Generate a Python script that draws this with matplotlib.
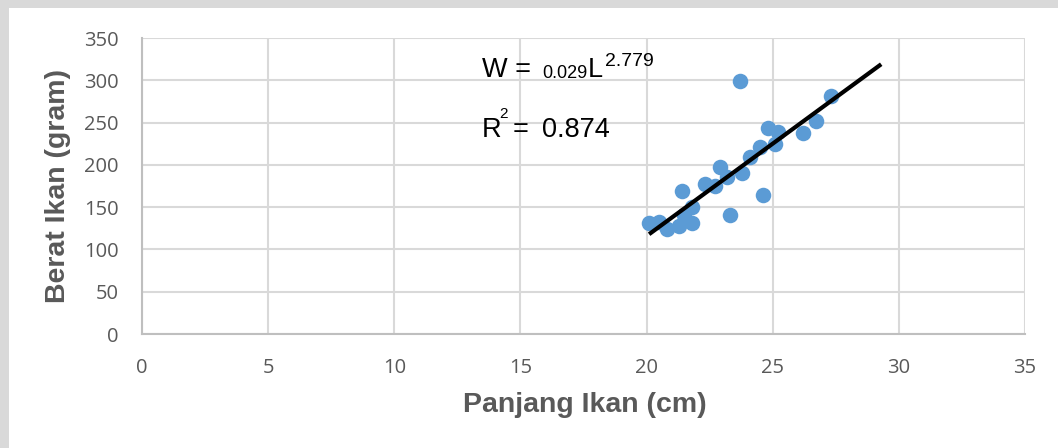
import numpy as np
import matplotlib
matplotlib.use("Agg")
import matplotlib.pyplot as plt
from matplotlib.patches import Rectangle

# data
panjang = [20.1, 20.5, 20.8, 21.3, 21.8, 21.5, 21.8, 21.4, 22.3, 22.7, 22.9, 23.2,
           23.8, 23.3, 24.6, 24.1, 24.5, 24.8, 25.2, 25.1, 26.2, 26.7, 27.3, 23.7]
berat = [131, 133, 124, 128, 131, 141, 150, 169, 177, 175, 197, 186,
         190, 141, 164, 209, 221, 243, 239, 225, 238, 252, 281, 299]
trend_x = [20.1, 29.3]
trend_y = [118, 319]

xticks = [0, 5, 10, 15, 20, 25, 30, 35]
yticks = [0, 50, 100, 150, 200, 250, 300, 350]

W, H = 1058, 448
fig = plt.figure(figsize=(W / 100, H / 100), dpi=100, facecolor="#d9d9d9")
fig.patches.append(Rectangle((9 / W, 0), 1, 1 - 8 / H, transform=fig.transFigure,
                             facecolor="white", edgecolor="none", zorder=-5))

ax = fig.add_axes([142 / W, 1 - 334 / H, (1025 - 142) / W, (334 - 38) / H])
ax.set_facecolor("white")

ax.scatter(panjang, berat, s=125, color="#5b9bd5", zorder=3, linewidths=0)
ax.plot(trend_x, trend_y, color="black", lw=3, zorder=4, solid_capstyle="butt")

ax.set_xlim(0, 35)
ax.set_ylim(0, 350)
ax.set_xticks(xticks)
ax.set_yticks(yticks)
ax.grid(True, color="#d9d9d9", lw=1.5, zorder=0)
ax.set_axisbelow(True)
for s in ["top", "right"]:
    ax.spines[s].set_visible(False)
for s in ["left", "bottom"]:
    ax.spines[s].set_color("#bfbfbf")
    ax.spines[s].set_linewidth(1.5)
ax.tick_params(length=0, labelsize=14.5, labelcolor="#595959")
ax.tick_params(axis="x", pad=17)
ax.tick_params(axis="y", pad=17)
for lab in ax.get_xticklabels() + ax.get_yticklabels():
    lab.set_family("Open Sans")

lbl = dict(family="Liberation Sans", weight="bold", color="#595959", fontsize=20.5)
fig.text(585 / W, 1 - 412 / H, "Panjang Ikan (cm)", ha="center", va="baseline", **lbl)
fig.text(58 / W, 1 - 186 / H, "Berat Ikan (gram)", ha="center", va="center",
         rotation=90, **lbl)

# equation texts
eq = dict(family="Liberation Sans", color="black")
fig.text(482 / W, 1 - 77 / H, "W = ", fontsize=19.5, va="baseline", **eq)
fig.text(542 / W, 1 - 78 / H, "0.029", fontsize=13, va="baseline", **eq)
fig.text(588 / W, 1 - 77 / H, "L", fontsize=19.5, va="baseline", **eq)
fig.text(605 / W, 1 - 66 / H, "2.779", fontsize=14, va="baseline", **eq)
fig.text(482 / W, 1 - 137 / H, "R", fontsize=19.5, va="baseline", **eq)
fig.text(499 / W, 1 - 118 / H, "2", fontsize=11, va="baseline", **eq)
fig.text(513 / W, 1 - 137 / H, "=", fontsize=19.5, va="baseline", **eq)
fig.text(542 / W, 1 - 137 / H, "0.874", fontsize=19.5, va="baseline", **eq)

fig.savefig("out.png", dpi=100, facecolor=fig.get_facecolor())
